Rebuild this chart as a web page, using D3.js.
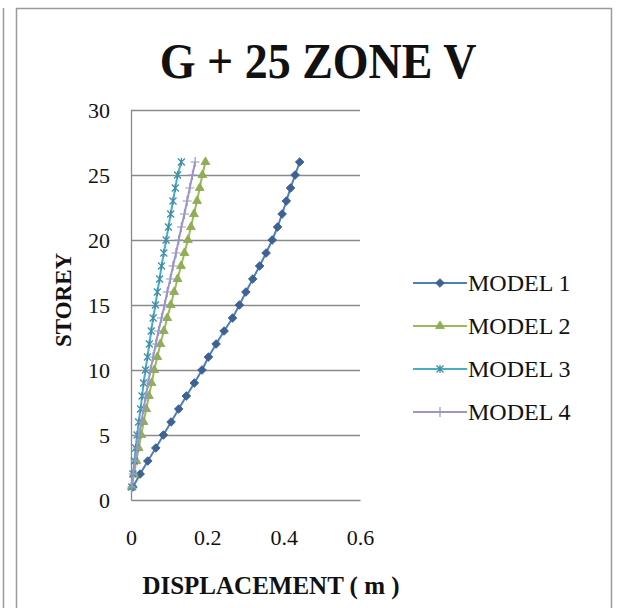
<!DOCTYPE html>
<html>
<head>
<meta charset="utf-8">
<script src="https://cdn.jsdelivr.net/npm/d3@7"></script>
<style>
  html, body { margin: 0; padding: 0; background: #fff; }
  svg { display: block; font-family: "Liberation Serif", "Times New Roman", serif; }
</style>
</head>
<body>
<svg id="chart" width="623" height="608"></svg>
<script>
// Storey levels and lateral displacement (m) for each building model
const storeys = [1, 2, 3, 4, 5, 6, 7, 8, 9, 10, 11, 12, 13, 14, 15, 16, 17, 18, 19, 20, 21, 22, 23, 24, 25, 26];

const model1 = [0.005, 0.024, 0.044, 0.065, 0.085, 0.105, 0.125, 0.145, 0.166, 0.186, 0.203, 0.223, 0.244, 0.266, 0.284, 0.301, 0.319, 0.337, 0.354, 0.370, 0.384, 0.396, 0.407, 0.418, 0.430, 0.442];
const model2 = [0.002, 0.008, 0.014, 0.020, 0.027, 0.033, 0.040, 0.047, 0.054, 0.061, 0.069, 0.077, 0.086, 0.095, 0.104, 0.113, 0.122, 0.131, 0.140, 0.149, 0.157, 0.165, 0.173, 0.180, 0.187, 0.195];
const model3 = [0.002, 0.005, 0.009, 0.012, 0.016, 0.020, 0.025, 0.029, 0.033, 0.038, 0.043, 0.048, 0.053, 0.058, 0.064, 0.069, 0.075, 0.080, 0.086, 0.092, 0.098, 0.104, 0.110, 0.116, 0.122, 0.132];
const model4 = [0.002, 0.006, 0.011, 0.016, 0.021, 0.027, 0.033, 0.039, 0.045, 0.051, 0.058, 0.065, 0.072, 0.080, 0.088, 0.095, 0.103, 0.110, 0.118, 0.125, 0.132, 0.140, 0.147, 0.154, 0.161, 0.168];

const seriesNames = ["MODEL 1", "MODEL 2", "MODEL 3", "MODEL 4"];
const xTicks = [0, 0.2, 0.4, 0.6];
const yTicks = [0, 5, 10, 15, 20, 25, 30];

const titleText = "G + 25 ZONE V";
const xTitle = "DISPLACEMENT ( m )";
const yTitle = "STOREY";

const series = [
  { name: seriesNames[0], values: model1, color: "#4f7fbb", marker: "diamond" },
  { name: seriesNames[1], values: model2, color: "#9bbb59", marker: "triangle" },
  { name: seriesNames[2], values: model3, color: "#4bacc6", marker: "star" },
  { name: seriesNames[3], values: model4, color: "#9a96c8", marker: "plus" }
];

const svg = d3.select("#chart");

// chart frame
svg.append("line").attr("x1", 3.5).attr("x2", 3.5).attr("y1", 8).attr("y2", 608)
  .attr("stroke", "#9a9a9a").attr("stroke-width", 1.5);
svg.append("path").attr("d", "M16.5,612 V8.5 H611.5 V612")
  .attr("fill", "none").attr("stroke", "#9a9a9a").attr("stroke-width", 1.5);

const x = d3.scaleLinear().domain([0, 0.6]).range([131, 360]);
const y = d3.scaleLinear().domain([0, 30]).range([500, 110]);

// horizontal gridlines
svg.append("g")
  .attr("transform", `translate(${x(0)},0)`)
  .call(d3.axisLeft(y).tickValues(yTicks.filter(d => d > 0)).tickSize(-(x(0.6) - x(0))).tickFormat(""))
  .call(g => g.select(".domain").remove())
  .call(g => g.selectAll(".tick line").attr("stroke", "#8a8a8a").attr("stroke-width", 1.3));

// axes
const yAxis = svg.append("g")
  .attr("transform", `translate(${x(0)},0)`)
  .call(d3.axisLeft(y).tickValues(yTicks).tickSize(0).tickPadding(21).tickFormat(d3.format("d")));
yAxis.select(".domain").attr("stroke", "#8a8a8a").attr("stroke-width", 1.3);
yAxis.selectAll("text").attr("font-family", "Liberation Serif").attr("font-size", 22).attr("fill", "#111");

const xAxis = svg.append("g")
  .attr("transform", `translate(0,${y(0)})`)
  .call(d3.axisBottom(x).tickValues(xTicks).tickSize(0).tickPadding(29).tickFormat(d => d === 0 ? "0" : d3.format(".1f")(d)));
xAxis.select(".domain").attr("stroke", "#8a8a8a").attr("stroke-width", 1.3);
xAxis.selectAll("text").attr("font-family", "Liberation Serif").attr("font-size", 22).attr("fill", "#111");

// titles
svg.append("text").attr("transform", "translate(318,78) scale(0.92,1)").attr("text-anchor", "middle")
  .attr("font-size", 50).attr("font-weight", "bold").attr("fill", "#111").text(titleText);
svg.append("text").attr("x", 271).attr("y", 594).attr("text-anchor", "middle")
  .attr("font-size", 25).attr("font-weight", "bold").attr("fill", "#111").text(xTitle);
svg.append("text").attr("transform", "translate(71,300) rotate(-90)").attr("text-anchor", "middle")
  .attr("font-size", 23).attr("font-weight", "bold").attr("fill", "#111").text(yTitle);

// marker shapes
function drawMarker(g, type, color) {
  if (type === "diamond") {
    g.append("path").attr("d", d3.symbol(d3.symbolDiamond2, 48)())
      .attr("fill", "#3d6294").attr("stroke", "#365888").attr("stroke-width", 0.8);
  } else if (type === "triangle") {
    g.append("path").attr("d", d3.symbol(d3.symbolTriangle, 34)())
      .attr("fill", d3.color(color).darker(0.2)).attr("stroke", d3.color(color).darker(0.3)).attr("stroke-width", 0.8);
  } else if (type === "star") {
    g.append("path").attr("d", "M-3.5,-3.5L3.5,3.5M-3.5,3.5L3.5,-3.5M0,-4L0,4")
      .attr("stroke", d3.color(color).darker(0.5)).attr("stroke-width", 1.3).attr("fill", "none");
  } else if (type === "plus") {
    g.append("path").attr("d", "M-4.5,0L4.5,0M0,-5L0,5")
      .attr("stroke", color).attr("stroke-width", 1.2).attr("fill", "none");
  }
}

const line = d3.line().x(d => x(d[0])).y(d => y(d[1]));

series.forEach(s => {
  const pts = s.values.map((v, i) => [v, storeys[i]]);
  const g = svg.append("g");
  g.append("path").datum(pts).attr("d", line)
    .attr("fill", "none").attr("stroke", s.color).attr("stroke-width", 2);
  g.selectAll("g.m").data(pts).join("g").attr("class", "m")
    .attr("transform", d => `translate(${x(d[0])},${y(d[1])})`)
    .each(function () { drawMarker(d3.select(this), s.marker, s.color); });
});

// legend
const legendY = [283, 326, 369, 412];
series.forEach((s, i) => {
  const g = svg.append("g").attr("transform", `translate(0,${legendY[i]})`);
  g.append("line").attr("x1", 413).attr("x2", 467).attr("y1", 0).attr("y2", 0)
    .attr("stroke", s.color).attr("stroke-width", 2);
  const m = g.append("g").attr("transform", "translate(440,0)");
  drawMarker(m, s.marker, s.color);
  g.append("text").attr("x", 468).attr("y", 8).attr("font-size", 24).attr("fill", "#111").text(s.name);
});
</script>
</body>
</html>
